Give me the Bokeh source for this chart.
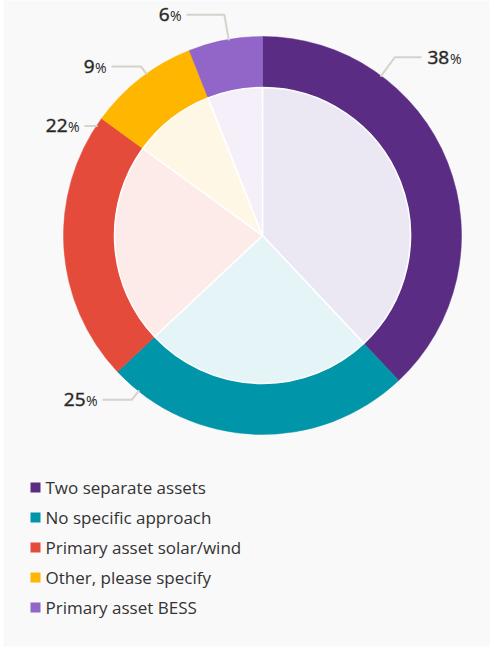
import math
from bokeh.plotting import figure
from bokeh.models import Range1d, ColumnDataSource
from bokeh.core.properties import value
from bokeh.embed import file_html
from bokeh.resources import INLINE

# ---------------- data ----------------
categories = ["Two separate assets", "No specific approach", "Primary asset solar/wind",
              "Other, please specify", "Primary asset BESS"]
shares = [38, 25, 22, 9, 6]
colors = ["#5b2c83", "#0095a8", "#e54b3b", "#ffb600", "#9166c8"]
tints = ["#ece8f3", "#e5f4f6", "#fcebe9", "#fff7e6", "#f4eff9"]

# ---------------- layout (pixels) ----------------
W, H = 490, 649
CX, CY = 262, H - 235
R_OUT, R_IN = 199, 148
label_anchor_deg = [36.6, 218.5, 303.6, 324.3, 350.2]   # clockwise from top
label_elbow_r = [222, 210, 198, 208, 224]
label_text_x = [427, 97, 79, 106, 181]
LEG_X, LEG_Y0, LEG_DY = 35, 487, 30
TEXT_COLOR = "#262626"
LEADER = "#d6d2cc"

# wedge angles (clockwise from top)
total = float(sum(shares))
starts, ends = [], []
acc = 0.0
for s in shares:
    starts.append(math.pi / 2 - 2 * math.pi * acc / total)
    acc += s
    ends.append(math.pi / 2 - 2 * math.pi * acc / total)

src = ColumnDataSource(dict(x=[CX] * len(shares), y=[CY] * len(shares),
                            start=starts, end=ends, color=colors, tint=tints))

p = figure(width=W, height=H, output_backend="svg", toolbar_location=None,
           x_range=Range1d(3, W), y_range=Range1d(3, H),
           x_axis_type=None, y_axis_type=None,
           min_border_left=3, min_border_bottom=3, min_border_top=0, min_border_right=0)
p.grid.visible = False
p.outline_line_color = None
p.background_fill_color = "#f9f9f9"
p.border_fill_color = "white"

# outer ring
p.annular_wedge(x="x", y="y", inner_radius=R_IN, outer_radius=R_OUT,
                start_angle="start", end_angle="end", direction="clock",
                fill_color="color", line_color="color", line_width=0.5, source=src)
# inner pie
p.wedge(x="x", y="y", radius=R_IN, start_angle="start", end_angle="end",
        direction="clock", fill_color="tint", line_color="white", line_width=1.5, source=src)

# labels with leader lines
def polar(deg, r):
    a = math.radians(deg)
    return CX + r * math.sin(a), CY + r * math.cos(a)

NUM_FONT = value("Open Sans")
num_style = dict(text_font=NUM_FONT, text_font_size="19px", text_color=TEXT_COLOR,
                 text_outline_color="rgba(38,38,38,0.45)", text_baseline="middle")
pct_style = dict(text_font=NUM_FONT, text_font_size="14px", text_color=TEXT_COLOR,
                 text_baseline="middle")
for i, s in enumerate(shares):
    ax, ay = polar(label_anchor_deg[i], R_OUT - 1)
    ex, ey = polar(label_anchor_deg[i], label_elbow_r[i])
    tx = label_text_x[i]
    right = tx > CX
    hx = tx - 6 if right else tx + 5
    p.line([ax, ex, hx], [ay, ey, ey], line_color=LEADER, line_width=2)
    num = str(s)
    num_w = 10.8 * len(num)
    if right:
        p.text([tx], [ey], text=[num], text_align="left", **num_style)
        p.text([tx + num_w + 1], [ey - 1], text=["%"], text_align="left", **pct_style)
    else:
        p.text([tx], [ey - 1], text=["%"], text_align="right", **pct_style)
        p.text([tx - 12], [ey], text=[num], text_align="right", **num_style)

# legend
leg_y = [H - (LEG_Y0 + LEG_DY * i) for i in range(len(categories))]
p.rect(x=[LEG_X] * len(categories), y=leg_y, width=10, height=10,
       fill_color=colors, line_color=None)
p.text(x=[LEG_X + 10] * len(categories), y=leg_y, text=categories,
       text_font=value("Open Sans"), text_font_size="17px", text_color="#333333",
       text_baseline="middle", text_align="left")

open("out.html", "w").write(file_html(p, INLINE))
